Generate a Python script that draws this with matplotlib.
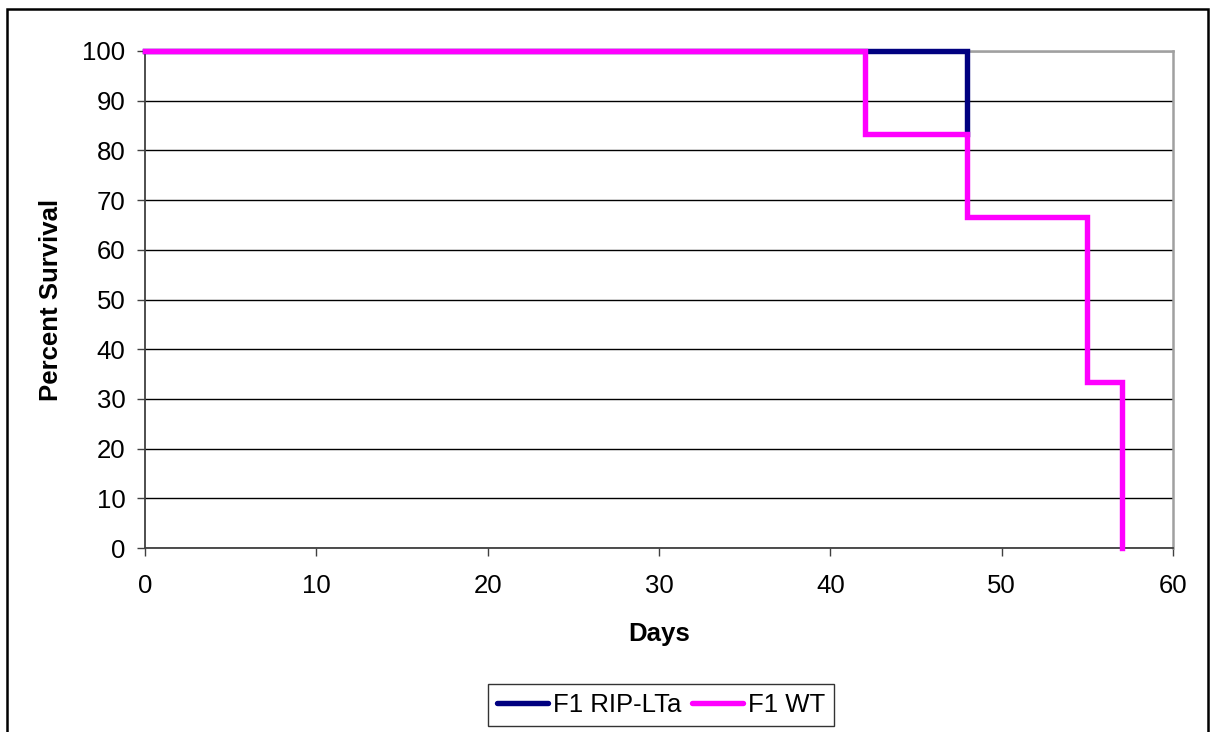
import matplotlib
matplotlib.use("Agg")
import matplotlib.pyplot as plt
from matplotlib.patches import Rectangle

# Data
rip_days = [0, 48, 48]
rip_surv = [100, 100, 83.3]
wt_days = [0, 42, 42, 48, 48, 55, 55, 57, 57]
wt_surv = [100, 100, 83.3, 83.3, 66.7, 66.7, 33.3, 33.3, 0]
series_names = ["F1 RIP-LTa", "F1 WT"]
x_ticks = [0, 10, 20, 30, 40, 50, 60]
y_ticks = [0, 10, 20, 30, 40, 50, 60, 70, 80, 90, 100]

plt.rcParams['font.family'] = ['Liberation Sans', 'DejaVu Sans']

fig = plt.figure(figsize=(12.1, 7.32), dpi=100)
ax = fig.add_axes([145/1210, 1-548/732, (1173-145)/1210, (548-51)/732])

ax.plot(rip_days, rip_surv, color='#000080', lw=3.9, solid_joinstyle='miter',
        label=series_names[0], zorder=3, clip_on=False)
ax.plot(wt_days, wt_surv, color='#FF00FF', lw=3.9, solid_joinstyle='miter',
        label=series_names[1], zorder=4, clip_on=False)

ax.set_xlim(0, 60)
ax.set_ylim(0, 100)
ax.set_xticks(x_ticks)
ax.set_yticks(y_ticks)
ax.yaxis.grid(True, color='black', lw=1.0)
ax.set_axisbelow(True)

for s in ['top', 'right']:
    ax.spines[s].set_color('#a0a0a0')
    ax.spines[s].set_linewidth(1.8)
for s in ['left', 'bottom']:
    ax.spines[s].set_color('#404040')
    ax.spines[s].set_linewidth(1.3)

ax.tick_params(axis='both', direction='out', length=6, width=1, color='#404040', labelsize=18.5)
ax.tick_params(axis='y', pad=8)
ax.tick_params(axis='x', pad=13)

ax.set_xlabel('Days', fontsize=18.5, fontweight='bold', labelpad=17)
ax.set_ylabel('Percent Survival', fontsize=18.5, fontweight='bold', labelpad=14)

leg = fig.legend(loc='center', bbox_to_anchor=(661/1210, 1-705/732), ncol=2,
                 fontsize=18.5, frameon=True, fancybox=False, edgecolor='black',
                 handlelength=2.0, handletextpad=0.2, columnspacing=0.4,
                 borderpad=0.35, borderaxespad=0)
leg.get_frame().set_linewidth(1.0)
for h in leg.get_lines():
    h.set_solid_capstyle('round')

fig.patches.append(Rectangle((7/1210, -0.05), (1208-7)/1210, 1.05 - 9/732,
                             transform=fig.transFigure, fill=False,
                             edgecolor='black', lw=1.8))

fig.savefig('out.png', dpi=100)
